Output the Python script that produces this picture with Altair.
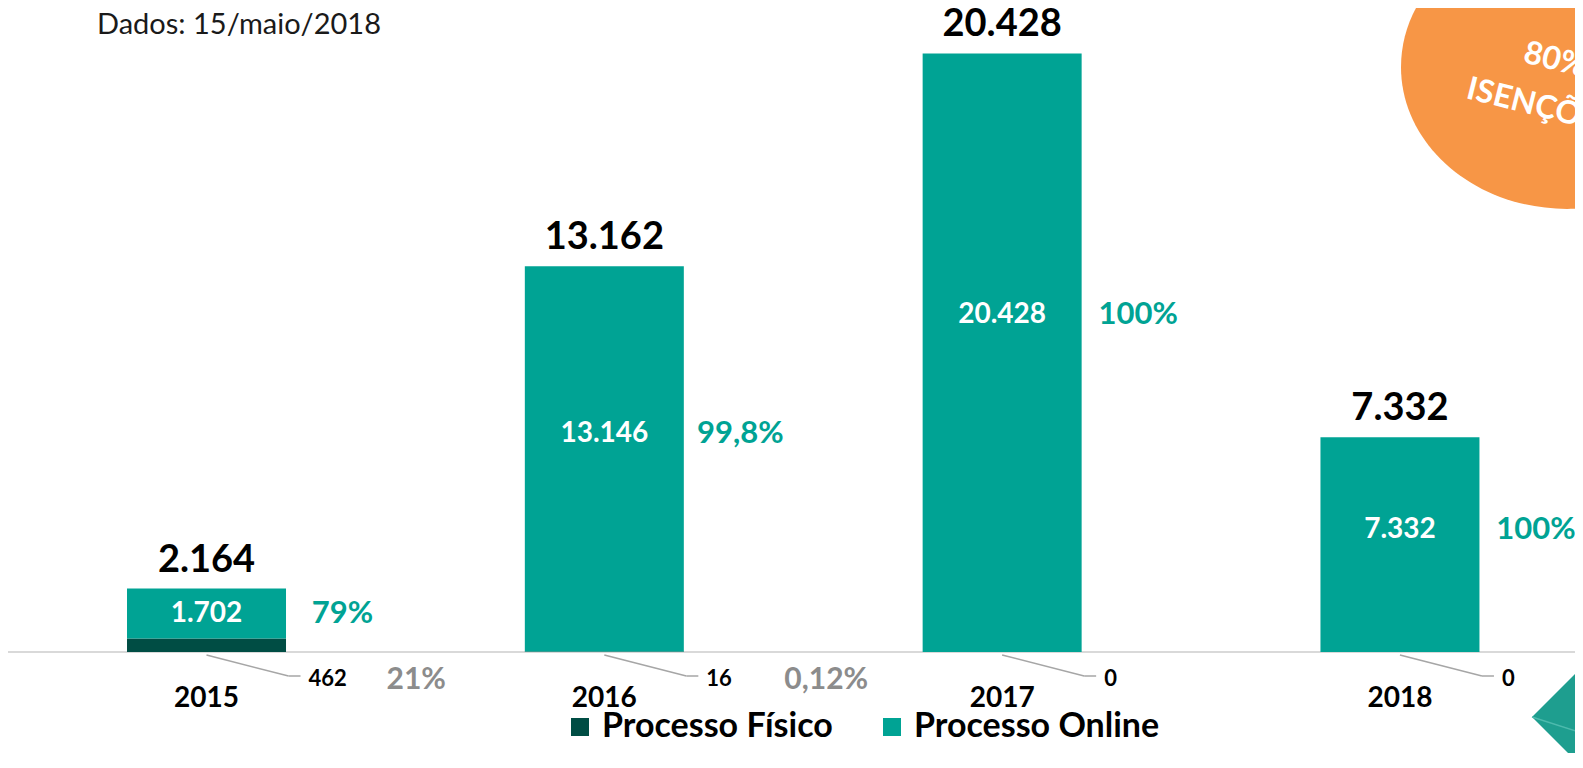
import altair as alt
import pandas as pd

# ---------------- data ----------------
anos = [2015, 2016, 2017, 2018]
fisico = [462, 16, 0, 0]
online = [1702, 13146, 20428, 7332]
total = [2164, 13162, 20428, 7332]
pct_online = ["79%", "99,8%", "100%", "100%"]
pct_fisico = ["21%", "0,12%", "", ""]
serie_fisico = "Processo Físico"
serie_online = "Processo Online"
nota = "Dados: 15/maio/2018"
selo = ["80%", "ISENÇÕES"]


def br(v):
    return f"{v:,}".replace(",", ".")


TEAL = "#00A394"
DARK = "#004D44"
GRAY = "#8C8C8C"
ORANGE = "#F79646"
FONT = "Lato"

W, H = 1567, 644

xs = alt.Scale(domain=[2014.501, 2018.44], nice=False, zero=False, padding=0)
ys = alt.Scale(domain=[0, 21980], nice=False, zero=False, padding=0)


def X(f):
    return alt.X(f, type="quantitative", scale=xs, axis=None)


def Y(f):
    return alt.Y(f, type="quantitative", scale=ys, axis=None)


long = pd.DataFrame({
    "ano": anos * 2,
    "serie": [serie_fisico] * 4 + [serie_online] * 4,
    "valor": fisico + online,
    "ordem": [0] * 4 + [1] * 4,
})
wide = pd.DataFrame({
    "ano": anos,
    "fisico": fisico,
    "online": online,
    "total": total,
    "pct_online": pct_online,
    "pct_fisico": pct_fisico,
    "txt_total": [br(v) for v in total],
    "txt_online": [br(v) for v in online],
    "txt_fisico": [br(v) for v in fisico],
})

baseline = alt.Chart(pd.DataFrame({"z": [0]})).mark_rule(
    color="#D9D9D9", strokeWidth=2
).encode(y=alt.Y("z:Q", scale=ys, axis=None), x=alt.value(0), x2=alt.value(W))

bars = alt.Chart(long).mark_bar(size=159).encode(
    x=X("ano"),
    y=alt.Y("valor", type="quantitative", scale=ys, axis=None, stack="zero"),
    color=alt.Color(
        "serie:N",
        scale=alt.Scale(domain=[serie_fisico, serie_online], range=[DARK, TEAL]),
        legend=alt.Legend(
            title=None, orient="none", legendX=555, legendY=702,
            direction="horizontal", symbolType="square", symbolSize=324,
            symbolStrokeWidth=0, labelFont=FONT, labelFontSize=34,
            labelFontWeight="bold", labelColor="black", labelOffset=5,
            columnPadding=42, padding=0, labelLimit=0,
        ),
    ),
    order=alt.Order("ordem:Q", sort="ascending"),
)

base = alt.Chart(wide)

tot_txt = base.mark_text(
    dy=-28, fontSize=38, fontWeight="bold", font=FONT, color="black", baseline="middle"
).encode(x=X("ano"), y=Y("total"), text="txt_total:N")

inner = base.transform_calculate(ly="datum.total * 0.56")

on_txt = inner.mark_text(
    dy=-2, fontSize=28, fontWeight="bold", font=FONT, color="white", baseline="middle"
).encode(x=X("ano"), y=Y("ly"), text="txt_online:N")

on_pct = inner.mark_text(
    dx=136, dy=-2, fontSize=31, fontWeight="bold", font=FONT, color=TEAL, baseline="middle"
).encode(x=X("ano"), y=Y("ly"), text="pct_online:N")

zero_y = alt.Y("zero:Q", scale=ys, axis=None)
lead_base = base.transform_calculate(zero="0")

lead1 = lead_base.mark_rule(
    color="#A6A6A6", strokeWidth=1.5, yOffset=3, x2Offset=82, y2Offset=24
).encode(x=X("ano"), x2="ano", y=zero_y, y2="zero")

lead2 = lead_base.mark_rule(
    color="#A6A6A6", strokeWidth=1.5, xOffset=82, x2Offset=94, yOffset=24
).encode(x=X("ano"), x2="ano", y=zero_y)

fis_txt = lead_base.mark_text(
    align="left", baseline="middle", dx=102, dy=27, fontSize=22,
    fontWeight="bold", font=FONT, color="black"
).encode(x=X("ano"), y=zero_y, text="txt_fisico:N")

fis_pct = lead_base.mark_text(
    align="left", baseline="middle", dx=180, dy=28, fontSize=30,
    fontWeight="bold", font=FONT, color=GRAY
).encode(x=X("ano"), y=zero_y, text="pct_fisico:N")

anos_txt = lead_base.mark_text(
    baseline="middle", dy=47, fontSize=28, fontWeight="bold", font=FONT, color="black"
).encode(x=X("ano"), y=zero_y, text=alt.Text("ano:Q", format="d"))

nota_txt = alt.Chart(pd.DataFrame({"t": [nota]})).mark_text(
    align="left", baseline="middle", fontSize=29, font=FONT, color="#1A1A1A"
).encode(x=alt.value(89), y=alt.value(17), text="t:N")

ELLIPSE = "M -1 0 A 1 0.855 0 1 1 1 0 A 1 0.855 0 1 1 -1 0 Z"
DIAMOND = "M -1 0 L 0 -1 L 1 0 L 0 1 Z"

oval = alt.Chart(pd.DataFrame({"a": [0]})).mark_point(
    shape=ELLIPSE, filled=True, fill=ORANGE, opacity=1, strokeWidth=0, size=332 * 332
).encode(x=alt.value(1559), y=alt.value(59))

selo1 = alt.Chart(pd.DataFrame({"t": [selo[0]]})).mark_text(
    align="left", baseline="alphabetic", angle=14, fontSize=32,
    fontWeight="bold", font=FONT, color="white"
).encode(x=alt.value(1514), y=alt.value(54), text="t:N")

selo2 = alt.Chart(pd.DataFrame({"t": [selo[1]]})).mark_text(
    align="left", baseline="alphabetic", angle=14, fontSize=32,
    fontWeight="bold", font=FONT, color="white"
).encode(x=alt.value(1457), y=alt.value(90), text="t:N")

diamond = alt.Chart(pd.DataFrame({"a": [0]})).mark_point(
    shape=DIAMOND, filled=True, fill="#1E9E8F", opacity=1, strokeWidth=0, size=160 * 160
).encode(x=alt.value(1604), y=alt.value(709))

fold = alt.Chart(pd.DataFrame({"a": [0]})).mark_rule(
    color="#4DBAAD", strokeWidth=1.5
).encode(x=alt.value(1524), y=alt.value(709), x2=alt.value(1580), y2=alt.value(727))

chart = alt.layer(
    baseline, bars, tot_txt, on_txt, on_pct, lead1, lead2, fis_txt, fis_pct,
    anos_txt, nota_txt, oval, selo1, selo2, diamond, fold
).properties(
    width=W, height=H,
    padding={"left": 0, "top": 0, "right": 0, "bottom": 101},
    autosize=alt.AutoSizeParams(type="none"),
).configure_view(strokeWidth=0)

chart.save("out.html", embed_options={"renderer": "svg", "actions": False})
